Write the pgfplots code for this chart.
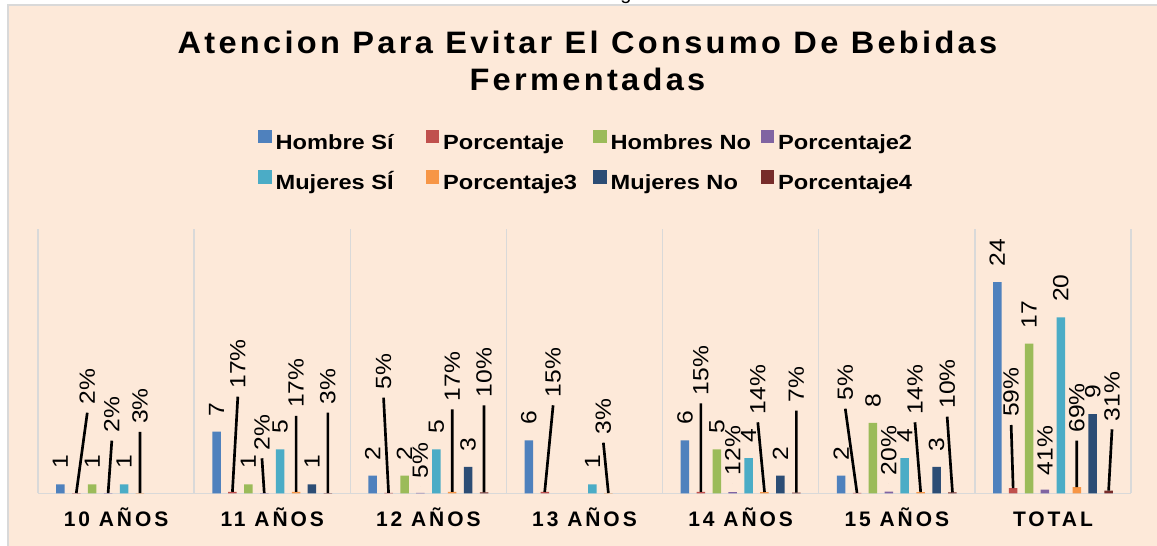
\documentclass[border=0pt]{standalone}
\usepackage{graphicx}
\usepackage{pgfplots}
\usepackage{pgfplotstable}
\pgfplotsset{compat=1.18}
\usepackage{fontspec}
\setmainfont{Liberation Sans}
\newfontfamily\titlefont[FakeStretch=1.05,LetterSpace=10.7]{Liberation Sans}
\newfontfamily\catfont[LetterSpace=14]{Liberation Sans}
\newfontfamily\legfont[FakeStretch=1.15]{Liberation Sans}
\newfontfamily\lblfont{Liberation Sans}

\definecolor{peach}{HTML}{FDE9D9}
\definecolor{gridgray}{HTML}{D9D9D9}
\definecolor{cHS}{HTML}{4F81BD}
\definecolor{cP}{HTML}{C0504D}
\definecolor{cHN}{HTML}{9BBB59}
\definecolor{cPb}{HTML}{8064A2}
\definecolor{cMS}{HTML}{4BACC6}
\definecolor{cPc}{HTML}{F79646}
\definecolor{cMN}{HTML}{2C4D75}
\definecolor{cPd}{HTML}{772C2A}

% counts
\pgfplotstableread{
x y
0 1
1 7
2 2
3 6
4 6
5 2
6 24
}\hombreSi
\pgfplotstableread{
x y
0 1
1 1
2 2
4 5
5 8
6 17
}\hombreNo
\pgfplotstableread{
x y
0 1
1 5
2 5
3 1
4 4
5 4
6 20
}\mujerSi
\pgfplotstableread{
x y
1 1
2 3
4 2
5 3
6 9
}\mujerNo
% percentages (as shares)
\pgfplotstableread{
x y
0 0.02
1 0.17
2 0.05
3 0.15
4 0.15
5 0.05
6 0.59
}\porcA
\pgfplotstableread{
x y
0 0.02
1 0.02
2 0.05
4 0.12
5 0.20
6 0.41
}\porcB
\pgfplotstableread{
x y
0 0.03
1 0.17
2 0.17
3 0.03
4 0.14
5 0.14
6 0.69
}\porcC
\pgfplotstableread{
x y
1 0.03
2 0.10
4 0.07
5 0.10
6 0.31
}\porcD
% percentage data labels: position of label foot and value
\pgfplotstableread{
x y p
-0.1843 9.159 2
0.7798 10.977 17
1.7131 10.864 5
2.7990 10.0 15
3.7452 10.227 15
4.6702 9.614 5
5.7324 7.761 59
-0.0273 5.977 2
0.9343 3.977 2
1.9490 0.795 5
3.9490 1.136 12
4.9490 1.136 20
5.9490 1.136 41
0.1529 6.966 3
1.1529 8.784 17
2.1529 9.545 17
3.1208 5.75 3
4.1100 8.068 14
5.1164 8.068 14
6.1529 5.977 69
1.3567 9.159 3
2.3567 10.0 10
4.3567 9.386 7
5.3227 8.705 10
6.3785 7.273 31
}\pctlabels
% leader lines (bar top -> label foot)
\pgfplotstableread{
x y
-0.2548 0.02
-0.1843 9.159
nan nan
0.7452 0.17
0.7798 10.977
nan nan
1.7452 0.05
1.7131 10.864
nan nan
2.7452 0.15
2.7990 10.0
nan nan
3.7452 0.15
3.7452 10.227
nan nan
4.7452 0.05
4.6702 9.614
nan nan
5.7452 0.59
5.7324 7.761
nan nan
-0.0510 0.02
-0.0273 5.977
nan nan
0.9490 0.02
0.9343 3.977
nan nan
0.1529 0.03
0.1529 6.966
nan nan
1.1529 0.17
1.1529 8.784
nan nan
2.1529 0.17
2.1529 9.545
nan nan
3.1529 0.03
3.1208 5.75
nan nan
4.1529 0.14
4.1100 8.068
nan nan
5.1529 0.14
5.1164 8.068
nan nan
6.1529 0.69
6.1529 5.977
nan nan
1.3567 0.03
1.3567 9.159
nan nan
2.3567 0.10
2.3567 10.0
nan nan
4.3567 0.07
4.3567 9.386
nan nan
5.3567 0.10
5.3227 8.705
nan nan
6.3567 0.31
6.3785 7.273
}\leaders

\tikzset{lblfnt/.style={font=\lblfont\fontsize{16.5}{18}\selectfont}}
\pgfplotsset{
  sqleg/.style={legend image code/.code={\fill[#1] (0pt,1pt) rectangle (9.4pt,10.7pt);}},
  cnt/.style 2 args={
    ybar, bar width=6.375pt, bar shift=#2, fill=#1, draw=none, forget plot,
    nodes near coords={\scalebox{1.12}[1]{\pgfmathprintnumber{\pgfplotspointmeta}}},
    every node near coord/.append style={xshift=#2, rotate=90, anchor=west, lblfnt, text=black, inner xsep=11.5pt, inner ysep=0pt},
  },
  pct/.style 2 args={ybar, bar width=6.375pt, bar shift=#2, fill=#1, draw=none, forget plot},
}

\begin{document}
\begin{tikzpicture}
\useasboundingbox (0,0) rectangle (867.75pt,409.5pt);
\fill[white] (0,0) rectangle (867.75pt,409.5pt);
\fill[peach] (6pt,0) rectangle (867.75pt,405.75pt);
\draw[gridgray, line width=0.8pt] (6pt,0) -- (6pt,405.75pt) -- (867.75pt,405.75pt);
\begin{scope}
\clip (0,406.2pt) rectangle (867.75pt,409.5pt);
\node[anchor=base, font=\fontsize{15}{18}\selectfont, inner sep=0pt] at (469.5pt,409.5pt) {g};
\end{scope}
\begin{axis}[
  at={(28.5pt,39.525pt)}, anchor=south west,
  scale only axis, width=819.75pt, height=198pt,
  xmin=-0.5, xmax=6.5, ymin=0, ymax=30,
  enlargelimits=false, clip=false,
  /pgf/number format/assume math mode=true,
  axis x line*=bottom, axis y line=none,
  axis line style={draw=gridgray, line width=1pt},
  xtick={0,...,6},
  xticklabels={10 AÑOS,11 AÑOS,12 AÑOS,13 AÑOS,14 AÑOS,15 AÑOS,TOTAL},
  xtick style={draw=none}, major tick length=0pt, minor tick length=0pt,
  minor xtick={-0.5,0.5,...,6.5},
  xminorgrids=true,
  minor grid style={draw=gridgray, line width=1pt},
  ytick=\empty,
  xticklabel style={font=\catfont\bfseries\fontsize{15.75}{18}\selectfont, inner sep=0pt, text height=11.25pt, anchor=north, yshift=-13.8pt},
  title={Atencion Para Evitar El Consumo De Bebidas\\Fermentadas},
  title style={font=\titlefont\bfseries\fontsize{23.25}{28.1}\selectfont, align=center, anchor=north, inner sep=0pt, at={(axis description cs:0.5027,1.7225)}},
  legend columns=4,
  legend cell align=left,
  legend style={draw=none, fill=none, at={(axis description cs:0.2013,1.378)}, anchor=north west,
    inner sep=0pt, outer sep=0pt, font=\legfont\bfseries\fontsize{15.4}{18}\selectfont,
    row sep=12pt, nodes={inner sep=0pt, text height=11.5pt, text depth=3.5pt},
    /tikz/every odd column/.append style={column sep=3.4pt},
    /tikz/every even column/.append style={column sep=0pt}},
]
\addplot[cnt={cHS}{-41.7375pt}] table[x=x,y=y] {\hombreSi};
\addplot[pct={cP}{-29.8125pt}] table[x=x,y=y] {\porcA};
\addplot[cnt={cHN}{-17.8875pt}] table[x=x,y=y] {\hombreNo};
\addplot[pct={cPb}{-5.9625pt}] table[x=x,y=y] {\porcB};
\addplot[cnt={cMS}{5.9625pt}] table[x=x,y=y] {\mujerSi};
\addplot[pct={cPc}{17.8875pt}] table[x=x,y=y] {\porcC};
\addplot[cnt={cMN}{29.8125pt}] table[x=x,y=y] {\mujerNo};
\addplot[pct={cPd}{41.7375pt}] table[x=x,y=y] {\porcD};
% leader lines
\addplot[forget plot, black, line width=2pt, mark=none, unbounded coords=jump] table[x=x,y=y] {\leaders};
% percentage labels
\addplot[forget plot, only marks, mark=*, mark size=0pt, mark options={draw=none, fill=none},
  point meta=explicit,
  nodes near coords={\scalebox{1.12}[1]{\pgfmathprintnumber{\pgfplotspointmeta}\%}},
  every node near coord/.append style={rotate=90, anchor=west, lblfnt, text=black, inner xsep=6pt, inner ysep=0pt}]
  table[x=x,y=y,meta=p] {\pctlabels};
\addlegendimage{sqleg=cHS}
\addlegendentry{\makebox[112.45pt][l]{Hombre Sí}}
\addlegendimage{sqleg=cP}
\addlegendentry{\makebox[112.45pt][l]{Porcentaje}}
\addlegendimage{sqleg=cHN}
\addlegendentry{\makebox[112.45pt][l]{Hombres No}}
\addlegendimage{sqleg=cPb}
\addlegendentry{\makebox[112.45pt][l]{Porcentaje2}}
\addlegendimage{sqleg=cMS}
\addlegendentry{\makebox[112.45pt][l]{Mujeres SÍ}}
\addlegendimage{sqleg=cPc}
\addlegendentry{\makebox[112.45pt][l]{Porcentaje3}}
\addlegendimage{sqleg=cMN}
\addlegendentry{\makebox[112.45pt][l]{Mujeres No}}
\addlegendimage{sqleg=cPd}
\addlegendentry{\makebox[112.45pt][l]{Porcentaje4}}
\end{axis}
\end{tikzpicture}
\end{document}
